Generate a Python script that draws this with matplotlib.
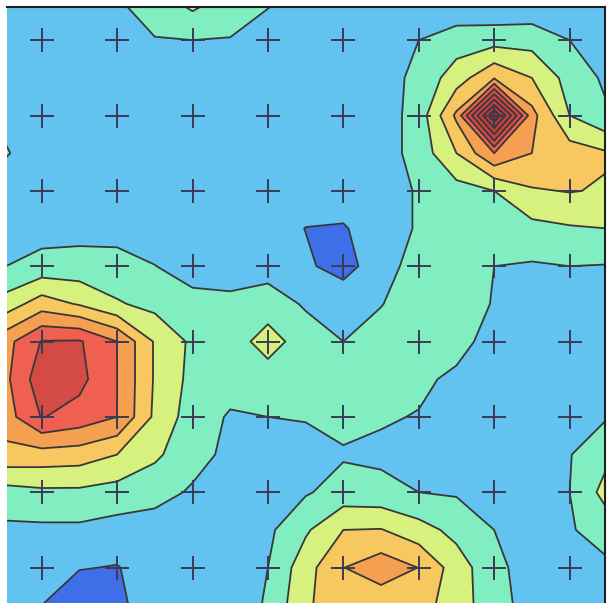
import numpy as np
import matplotlib
matplotlib.use("Agg")
import matplotlib.pyplot as plt

# field values on a half-step grid (rows top -> bottom), x,y from -0.5 to 7.5
z_rows = [
    [1.5, 1.5, 1.5, 1.9, 2.5, 3.3, 2.6, 2.1, 1.5, 1.5, 1.4, 1.3, 1.2, 1.1, 1.2, 1.3, 1.3],
    [1.5, 1.5, 1.5, 1.5, 1.95, 2.0, 1.95, 1.5, 1.5, 1.5, 1.5, 2.0, 2.5, 2.6, 2.6, 2.0, 1.4],
    [1.5, 1.5, 1.5, 1.5, 1.5, 1.5, 1.5, 1.5, 1.5, 1.5, 1.5, 2.3, 3.5, 4.9, 4.0, 2.6, 1.8],
    [1.8, 1.5, 1.5, 1.5, 1.5, 1.5, 1.5, 1.5, 1.5, 1.5, 1.5, 2.4, 5.2, 12.0, 5.35, 3.0, 2.1],
    [2.1, 1.5, 1.5, 1.5, 1.5, 1.5, 1.5, 1.5, 1.5, 1.5, 1.5, 2.4, 4.0, 6.0, 5.0, 4.5, 4.1],
    [1.5, 1.5, 1.5, 1.5, 1.5, 1.5, 1.5, 1.5, 1.5, 1.5, 1.5, 2.1, 2.6, 3.0, 3.9, 4.05, 3.9],
    [1.5, 1.6, 1.65, 1.65, 1.5, 1.5, 1.5, 1.5, 0.98, 0.92, 1.5, 2.1, 2.3, 2.4, 2.7, 2.9, 3.0],
    [1.98, 2.35, 2.4, 2.35, 2.02, 1.6, 1.6, 1.45, 1.16, 0.6, 1.6, 2.4, 2.3, 2.0, 1.9, 2.0, 1.95],
    [3.4, 4.5, 3.9, 3.1, 2.7, 2.3, 2.2, 2.65, 1.85, 1.7, 1.97, 2.4, 2.4, 1.95, 1.6, 1.5, 1.5],
    [5.6, 7.05, 7.1, 6.0, 3.9, 2.8, 2.65, 3.3, 2.65, 2.0, 2.3, 2.4, 2.35, 1.6, 1.5, 1.5, 1.5],
    [5.7, 7.6, 7.3, 6.0, 3.9, 2.7, 2.4, 2.65, 2.5, 2.5, 2.4, 2.2, 1.8, 1.5, 1.5, 1.5, 1.6],
    [5.5, 7.05, 6.6, 6.0, 3.8, 2.5, 1.9, 2.0, 2.05, 2.3, 2.1, 1.95, 1.6, 1.5, 1.5, 1.6, 1.95],
    [4.7, 4.6, 4.5, 4.0, 3.2, 2.3, 1.8, 1.6, 1.7, 1.9, 1.8, 1.8, 1.6, 1.5, 1.5, 1.95, 2.8],
    [2.6, 2.8, 2.8, 2.6, 2.3, 1.9, 1.6, 1.6, 1.9, 2.4, 2.3, 2.0, 1.9, 1.6, 1.6, 2.0, 3.4],
    [1.8, 1.8, 1.8, 1.6, 1.6, 1.5, 1.5, 1.8, 2.85, 4.0, 4.05, 3.4, 2.7, 2.0, 1.5, 1.9, 2.5],
    [1.5, 1.5, 1.05, 0.95, 1.5, 1.5, 1.5, 2.0, 3.6, 4.98, 5.6, 4.98, 3.5, 2.3, 1.5, 1.6, 1.8],
    [1.5, 1.0, 0.3, 0.7, 1.7, 1.5, 1.5, 2.1, 3.9, 4.4, 4.3, 4.4, 3.5, 2.4, 1.6, 1.6, 1.5],
]
grid_x = np.arange(-0.5, 7.51, 0.5)
grid_y = np.arange(-0.5, 7.51, 0.5)

# sample points marked with +
mark_x = np.arange(8)
mark_y = np.arange(8)

levels = [-1, 1, 2, 3, 4, 5, 6, 7, 8, 9, 10, 11, 13]
band_colors = ['#3f6fe8', '#62c3f0', '#80eec0', '#d6f17e', '#f8c860',
               '#f5a050', '#f06050', '#d44a44', '#cc4442', '#c43e3e',
               '#b83838', '#a02c2c']

Z = np.array(z_rows)

fig = plt.figure(figsize=(6.14, 6.03), dpi=100)
ax = fig.add_axes([7 / 614, 0.0, 598 / 614, 596 / 603])

ax.contourf(grid_x, grid_y, Z, levels=levels, colors=band_colors)
ax.contour(grid_x, grid_y, Z, levels=levels[1:-1], colors='#383838',
           linewidths=1.3)

mx, my = np.meshgrid(mark_x, mark_y)
ax.plot(mx.ravel(), my.ravel(), '+', color='#3b3b55', markersize=17,
        markeredgewidth=1.4)

ax.set_xlim(-0.46, 7.47)
ax.set_ylim(7.47, -0.44)
ax.set_xticks([])
ax.set_yticks([])
for side in ['left', 'bottom']:
    ax.spines[side].set_visible(False)
for side in ['top', 'right']:
    ax.spines[side].set_linewidth(1.5)
    ax.spines[side].set_color('#202020')

fig.savefig('out.png', dpi=100)
